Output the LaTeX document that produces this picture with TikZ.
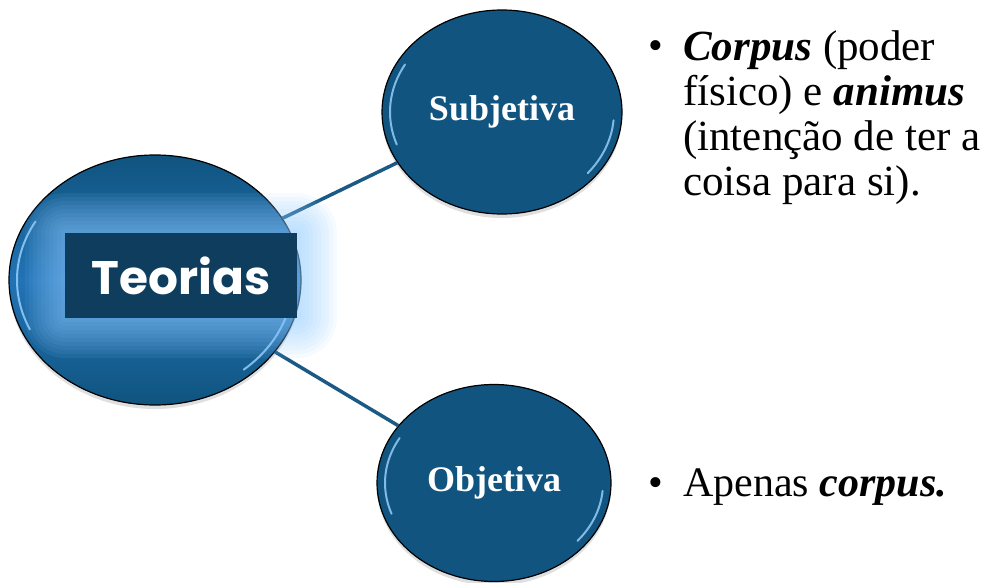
\documentclass[tikz,border=0pt]{standalone}
\usepackage{fontspec}
\setmainfont{Liberation Serif}
\newfontfamily\teorfont{Poppins}
\usetikzlibrary{shapes.geometric,shadows,positioning}

\definecolor{bolablue}{HTML}{10547F}
\definecolor{bolalight}{HTML}{2273B6}
\definecolor{boxblue}{HTML}{0E3D5E}
\definecolor{ramoblue}{HTML}{1A5A85}
\definecolor{glowblue}{HTML}{8CC8FF}
\definecolor{glintblue}{HTML}{9CD4FF}

\tikzset{
    bola/.style={ellipse, draw=black, line width=1.2pt, fill=bolablue,
        inner sep=0pt, text=white,
        drop shadow={opacity=0.25, shadow xshift=0pt, shadow yshift=-4pt}},
    ramo/.style={draw=ramoblue, line width=3.5pt},
    glint/.style={glintblue, line width=2pt, line cap=round, opacity=0.8},
    item/.style={anchor=base west, inner sep=0pt, font=\fontsize{42}{45}\selectfont}
}

\begin{document}
\begin{tikzpicture}[x=1pt, y=-1pt]
    \useasboundingbox (0, 0) rectangle (985, 583);
    % ramos
    \node[bola, minimum width=292pt, minimum height=250pt,
        top color=bolablue, bottom color=bolablue, middle color=bolalight]
        (teorias) at (155, 280) {};
    \node[bola, minimum width=240pt, minimum height=204pt,
        font=\bfseries\fontsize{36}{40}\selectfont] (subj) at (502, 112) {Subjetiva};
    \node[bola, minimum width=234pt, minimum height=197pt,
        font=\bfseries\fontsize{36}{40}\selectfont] (obj) at (494, 483) {Objetiva};
    \draw[ramo] (teorias) -- (subj);
    \draw[ramo] (teorias) -- (obj);
    % brilho nas bordas
    \draw[glint] (teorias.center) ++(150:138pt and 117pt) arc[start angle=150, end angle=205, x radius=138pt, y radius=117pt];
    \draw[glint] (teorias.center) ++(-15:138pt and 117pt) arc[start angle=-15, end angle=-50, x radius=138pt, y radius=117pt];
    \draw[glint] (subj.center) ++(150:112pt and 95pt) arc[start angle=150, end angle=200, x radius=112pt, y radius=95pt];
    \draw[glint] (subj.center) ++(-5:112pt and 95pt) arc[start angle=-5, end angle=-40, x radius=112pt, y radius=95pt];
    \draw[glint] (obj.center) ++(150:109pt and 90pt) arc[start angle=150, end angle=200, x radius=109pt, y radius=90pt];
    \draw[glint] (obj.center) ++(-5:109pt and 90pt) arc[start angle=-5, end angle=-40, x radius=109pt, y radius=90pt];
    % caixa do titulo com halo
    \foreach \g in {40, 36, 32, 28, 24, 20, 16, 12, 8, 4}
        \fill[glowblue, opacity=0.08, rounded corners=\g pt]
            (181, 275.5) ++(-116-\g, -42.5-\g) rectangle ++(232+2*\g, 85+2*\g);
    \node[fill=boxblue, minimum width=232pt, minimum height=85pt, inner sep=0pt,
        text=white, font=\teorfont\bfseries\fontsize{47}{52}\selectfont]
        (titulo) at (181, 275.5) {Teorias};
    % textos
    \node[item] (bulA) at (648, 60) {•};
    \node[item, align=left, font=\fontsize{43}{45}\selectfont] (txtA) at (683, 195)
        {\textbf{\textit{Corpus}} (poder\\físico) e \textbf{\textit{animus}}\\(intenção de ter a\\coisa para si).};
    \node[item] (bulB) at (648, 496) {•};
    \node[item] (txtB) at (683, 496) {Apenas \textbf{\textit{corpus.}}};
\end{tikzpicture}
\end{document}
